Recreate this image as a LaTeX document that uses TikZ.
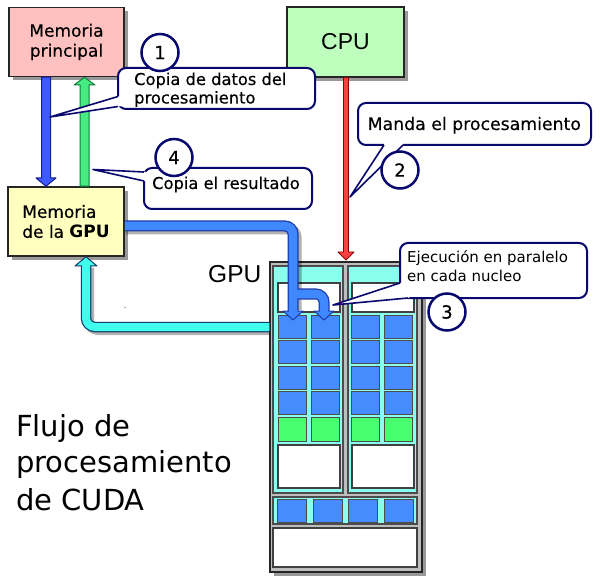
\documentclass[tikz,border=0pt]{standalone}
\usepackage{fontspec}
\setmainfont{DejaVu Sans}
\newfontfamily\heavy[FakeBold=0.35]{DejaVu Sans}
\newfontfamily\arialf{Liberation Sans}
\usetikzlibrary{shadows}
\definecolor{navy}{RGB}{8,8,110}
\definecolor{pinkbox}{RGB}{255,192,192}
\definecolor{cpugreen}{RGB}{190,255,190}
\definecolor{yellowbox}{RGB}{255,255,192}
\definecolor{aqua}{RGB}{138,255,238}
\definecolor{cellblue}{RGB}{70,140,255}
\definecolor{cellgreen}{RGB}{72,255,112}
\definecolor{arrowblue}{RGB}{60,90,255}
\definecolor{blueout}{RGB}{20,30,140}
\definecolor{arrowgreen}{RGB}{70,235,130}
\definecolor{greenout}{RGB}{20,120,60}
\definecolor{arrowcyan}{RGB}{64,255,236}
\definecolor{cyanout}{RGB}{20,60,110}
\definecolor{arrowred}{RGB}{255,64,64}
\definecolor{redout}{RGB}{140,0,0}
\definecolor{bentblue}{RGB}{64,136,255}
\definecolor{bentout}{RGB}{30,60,170}
\definecolor{gpugray}{RGB}{190,190,190}
\begin{document}
\begin{tikzpicture}[x=1pt,y=-1pt,
  box/.style={draw=black!85, line width=1.5pt, inner sep=0pt,
    drop shadow={shadow xshift=4pt, shadow yshift=-4pt, opacity=0.4, fill=black}},
  bubble/.style={draw=navy, line width=2pt, fill=white, rounded corners=8pt, inner sep=0pt},
  num/.style={circle, draw=navy, line width=2.5pt, fill=white, minimum size=37pt, inner sep=0pt,
    font=\heavy\fontsize{18}{20}\selectfont},
  btext/.style={anchor=base west, inner sep=0pt, font=\heavy\fontsize{16.3}{18}\selectfont},
  ptr/.style={draw=navy, line width=1.6pt, line join=round},
  colbox/.style={fill=aqua, draw=black!70, line width=1.5pt},
  whitebox/.style={fill=white, draw=black!75, line width=1.2pt},
  cell/.style={draw=black!70, line width=1pt},
  headstyle/.style={line width=1pt, line join=round}]
\useasboundingbox (0,0) rectangle (600,580);
\fill[white] (0,0) rectangle (600,580);

% boxes
\node[box, fill=pinkbox, minimum width=115pt, minimum height=69pt, align=center,
  font=\heavy\fontsize{17}{20}\selectfont] (mp) at (66.5,42) {Memoria\\principal};
\node[box, fill=cpugreen, minimum width=117pt, minimum height=70pt,
  font=\arialf\fontsize{23}{26}\selectfont] (cpu) at (345.5,42) {CPU};
\node[box, fill=yellowbox, minimum width=116pt, minimum height=69pt, align=left,
  font=\heavy\fontsize{17}{20}\selectfont] (mg) at (66,221.5) {Memoria\\de la {\normalfont\fontsize{17}{20}\selectfont\bfseries GPU}};

% GPU
\node[box, fill=gpugray, minimum width=152pt, minimum height=310pt] (gpu) at (346,417) {};
\draw[colbox] (273,266) rectangle (343,493);
\draw[colbox] (348,266) rectangle (417,493);
\draw[whitebox] (278,283) rectangle (340,312);
\draw[whitebox] (352,283) rectangle (414,312);
\foreach \cx in {278,311,351,384} {
  \foreach \i in {0,...,3} {
    \draw[cell, fill=cellblue] (\cx,315+25.5*\i) rectangle ++(28.5,23);
  }
  \draw[cell, fill=cellgreen] (\cx,417) rectangle ++(28.5,24);
}
\draw[whitebox] (278,445) rectangle (340,488);
\draw[whitebox] (352,445) rectangle (414,488);
\draw[colbox] (273,497) rectangle (417,524);
\foreach \cx in {277,313,348,384} {
  \draw[cell, fill=cellblue] (\cx,499) rectangle ++(29,23);
}
\draw[whitebox, line width=1.5pt] (273,528) rectangle (417,567);
\node[anchor=base west, inner sep=0pt, font=\arialf\fontsize{24.5}{26}\selectfont] (gpul) at (208,283) {GPU};

% straight arrows
\filldraw[fill=arrowblue, draw=blueout, headstyle] (41.5,0 |- mp.south) -- (41.5,178) -- (36,178)
  -- (46,0 |- mg.north) -- (56,178) -- (50.5,178) -- (50.5,0 |- mp.south) -- cycle;
\filldraw[fill=arrowgreen, draw=greenout, headstyle] (80,0 |- mg.north) -- (80,85) -- (74,85)
  -- (84.5,0 |- mp.south) -- (95,85) -- (89,85) -- (89,0 |- mg.north) -- cycle;
\filldraw[fill=arrowred, draw=redout, line width=0.8pt, line join=round] (343.5,0 |- cpu.south) -- (343.5,252) -- (338,252)
  -- (346,260) -- (354,252) -- (348.5,252) -- (348.5,0 |- cpu.south) -- cycle;

% cyan return arrow
\draw[line width=10pt, black, opacity=0.3, rounded corners=9pt] (270,330) -- (89,330) -- (89,268);
\draw[line width=10.5pt, cyanout, rounded corners=9pt] (gpu.west |- 0,327) -- (86,327) -- (86,266);
\filldraw[fill=arrowcyan, draw=cyanout, headstyle] (75,266) -- (86,0 |- mg.south) -- (97,266) -- cycle;
\draw[line width=8pt, arrowcyan, rounded corners=9pt] (gpu.west |- 0,327) -- (86,327) -- (86,263);

% blue bent arrow
\draw[line width=11pt, black, opacity=0.3, rounded corners=8pt] (126,229) -- (296,229) -- (296,310);
\draw[line width=11pt, bentout, rounded corners=8pt] (mg.east |- 0,226) -- (293,226) -- (293,311);
\draw[line width=11pt, bentout, rounded corners=8pt] (293,294) -- (324,294) -- (324,311);
\filldraw[fill=bentblue, draw=bentout, headstyle] (283,311) -- (293,320) -- (303,311) -- cycle;
\filldraw[fill=bentblue, draw=bentout, headstyle] (314,311) -- (324,320) -- (334,311) -- cycle;
\draw[line width=8.5pt, bentblue, rounded corners=8pt] (mg.east |- 0,226) -- (293,226) -- (293,314);
\draw[line width=8.5pt, bentblue, rounded corners=8pt] (293,294) -- (324,294) -- (324,314);

\fill[black!60] (125,307.5) circle (0.6pt);

% callout 1
\node[bubble, minimum width=197pt, minimum height=41pt] (b1) at (216.5,88.5) {};
\fill[white] (50,117) -- (118,96.5) -- (122,96.5) -- (122,106.5) -- (118,106.5) -- cycle;
\draw[ptr] (118,96.5) -- (50,117) -- (118,106.5);
\node[btext] (t1a) at (134,85) {Copia de datos del};
\node[btext] (t1b) at (134,103.5) {procesamiento};

% callout 4
\node[bubble, minimum width=168pt, minimum height=41pt] (b4) at (228,188.5) {};
\fill[white] (93,169.5) -- (144,172) -- (148,172) -- (148,181) -- (144,181) -- cycle;
\draw[ptr] (144,172) -- (93,169.5) -- (144,181);
\node[btext] (t4) at (152,189) {Copia el resultado};

% callout 2
\node[bubble, minimum width=233pt, minimum height=42pt] (b2) at (474.5,124) {};
\fill[white] (350,197) -- (384,145) -- (384,141) -- (403,141) -- (403,145) -- cycle;
\draw[ptr] (384,145) -- (350,197) -- (403,145);
\node[btext, font=\heavy\fontsize{17.3}{19}\selectfont] (t2) at (367.5,130) {Manda el procesamiento};

% callout 3
\node[bubble, minimum width=187pt, minimum height=55pt] (b3) at (493.5,270.5) {};
\fill[white] (333,305) -- (400,283) -- (406,283) -- (412,292) -- (412,296) -- (408,298) -- cycle;
\draw[ptr] (400,283) -- (333,305) -- (408,298);
\node[btext, font=\fontsize{15}{17}\selectfont] (t3a) at (407,263) {Ejecución en paralelo};
\node[btext, font=\fontsize{15}{17}\selectfont] (t3b) at (407,282) {en cada nucleo};

% numbers
\node[num] (n1) at (160,52.5) {1};
\node[num] (n2) at (400,170) {2};
\node[num] (n3) at (447,312) {3};
\node[num] (n4) at (174,157.5) {4};

% title
\node[anchor=base west, inner sep=0pt, font=\fontsize{29}{37}\selectfont] (f1) at (16,436) {Flujo de};
\node[anchor=base west, inner sep=0pt, font=\fontsize{29}{37}\selectfont] (f2) at (16,472) {procesamiento};
\node[anchor=base west, inner sep=0pt, font=\fontsize{29}{37}\selectfont] (f3) at (16,510) {de CUDA};
\end{tikzpicture}
\end{document}
